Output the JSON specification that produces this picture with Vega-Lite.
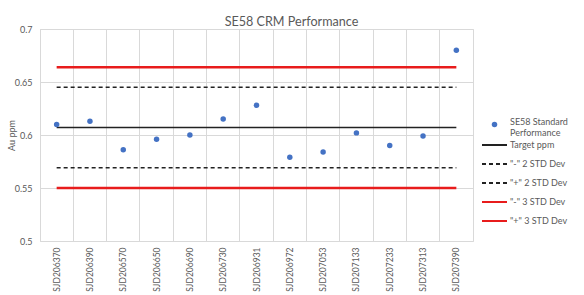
{
  "$schema": "https://vega.github.io/schema/vega-lite/v6.json",
  "width": 433,
  "height": 212,
  "autosize": {"type": "none"},
  "padding": {"left": 40, "top": 29, "right": 111, "bottom": 54},
  "background": "white",
  "title": {
    "text": "SE58 CRM Performance",
    "font": "Lato",
    "fontSize": 12.6,
    "fontWeight": "normal",
    "color": "#595959",
    "anchor": "middle",
    "dx": 35,
    "offset": -4
  },
  "datasets": {
    "samples": [
      {"sample": "SJD206370", "series": "SE58 Standard Performance", "value": 0.610},
      {"sample": "SJD206390", "series": "SE58 Standard Performance", "value": 0.613},
      {"sample": "SJD206570", "series": "SE58 Standard Performance", "value": 0.586},
      {"sample": "SJD206650", "series": "SE58 Standard Performance", "value": 0.596},
      {"sample": "SJD206690", "series": "SE58 Standard Performance", "value": 0.600},
      {"sample": "SJD206730", "series": "SE58 Standard Performance", "value": 0.615},
      {"sample": "SJD206931", "series": "SE58 Standard Performance", "value": 0.628},
      {"sample": "SJD206972", "series": "SE58 Standard Performance", "value": 0.579},
      {"sample": "SJD207053", "series": "SE58 Standard Performance", "value": 0.584},
      {"sample": "SJD207133", "series": "SE58 Standard Performance", "value": 0.602},
      {"sample": "SJD207233", "series": "SE58 Standard Performance", "value": 0.590},
      {"sample": "SJD207313", "series": "SE58 Standard Performance", "value": 0.599},
      {"sample": "SJD207390", "series": "SE58 Standard Performance", "value": 0.680}
    ],
    "limits": [
      {"sample": "SJD206370", "series": "Target ppm", "kind": "target", "value": 0.607},
      {"sample": "SJD207390", "series": "Target ppm", "kind": "target", "value": 0.607},
      {"sample": "SJD206370", "series": "\"-\" 2 STD Dev", "kind": "2sd", "value": 0.569},
      {"sample": "SJD207390", "series": "\"-\" 2 STD Dev", "kind": "2sd", "value": 0.569},
      {"sample": "SJD206370", "series": "\"+\" 2 STD Dev", "kind": "2sd", "value": 0.645},
      {"sample": "SJD207390", "series": "\"+\" 2 STD Dev", "kind": "2sd", "value": 0.645},
      {"sample": "SJD206370", "series": "\"-\" 3 STD Dev", "kind": "3sd", "value": 0.550},
      {"sample": "SJD207390", "series": "\"-\" 3 STD Dev", "kind": "3sd", "value": 0.550},
      {"sample": "SJD206370", "series": "\"+\" 3 STD Dev", "kind": "3sd", "value": 0.664},
      {"sample": "SJD207390", "series": "\"+\" 3 STD Dev", "kind": "3sd", "value": 0.664}
    ]
  },
  "resolve": {"axis": {"x": "independent"}},
  "layer": [
    {
      "data": {"name": "limits"},
      "transform": [{"filter": "datum.kind === 'target'"}],
      "mark": {"type": "line", "strokeWidth": 1.5},
      "encoding": {
        "x": {
          "field": "sample",
          "type": "nominal",
          "scale": {
            "type": "band",
            "paddingInner": 0,
            "paddingOuter": 0,
            "domain": ["SJD206370", "SJD206390", "SJD206570", "SJD206650", "SJD206690", "SJD206730", "SJD206931", "SJD206972", "SJD207053", "SJD207133", "SJD207233", "SJD207313", "SJD207390"]
          },
          "axis": {
            "orient": "bottom",
            "bandPosition": 0,
            "grid": true,
            "gridColor": "#D9D9D9",
            "gridWidth": 1,
            "labels": false,
            "ticks": false,
            "domain": false,
            "title": null
          }
        },
        "y": {
          "field": "value",
          "type": "quantitative",
          "scale": {"domain": [0.5, 0.7], "nice": false, "zero": false},
          "axis": {
            "title": "Au ppm",
            "values": [0.5, 0.55, 0.6, 0.65, 0.7],
            "format": ".2~f",
            "grid": true,
            "gridColor": "#D9D9D9",
            "ticks": false,
            "domain": false,
            "labelPadding": 8,
            "labelFont": "Lato",
            "labelFontSize": 9,
            "labelColor": "#595959",
            "titleFont": "Lato",
            "titleFontSize": 9,
            "titleFontWeight": "normal",
            "titleColor": "#595959",
            "titlePadding": -2
          }
        },
        "color": {
          "field": "series",
          "type": "nominal",
          "scale": {
            "domain": ["Target ppm", "\"-\" 2 STD Dev", "\"+\" 2 STD Dev", "\"-\" 3 STD Dev", "\"+\" 3 STD Dev"],
            "range": ["#222222", "#222222", "#222222", "#E81C1C", "#E81C1C"]
          },
          "legend": {
            "title": null,
            "orient": "none",
            "legendX": 441,
            "legendY": 102.5,
            "padding": 0,
            "symbolType": "stroke",
            "symbolSize": 625,
            "symbolStrokeWidth": 1.8,
            "rowPadding": -6.7,
            "labelOffset": 2,
            "labelFont": "Lato",
            "labelFontSize": 9,
            "labelColor": "#595959"
          }
        },
        "strokeDash": {
          "field": "series",
          "type": "nominal",
          "scale": {
            "domain": ["Target ppm", "\"-\" 2 STD Dev", "\"+\" 2 STD Dev", "\"-\" 3 STD Dev", "\"+\" 3 STD Dev"],
            "range": [[1, 0], [4, 3], [4, 3], [1, 0], [1, 0]]
          },
          "legend": {
            "title": null,
            "orient": "none",
            "legendX": 441,
            "legendY": 102.5,
            "padding": 0,
            "symbolType": "stroke",
            "symbolSize": 625,
            "symbolStrokeWidth": 1.8,
            "rowPadding": -6.7,
            "labelOffset": 2,
            "labelFont": "Lato",
            "labelFontSize": 9,
            "labelColor": "#595959"
          }
        }
      }
    },
    {
      "data": {"name": "limits"},
      "transform": [{"filter": "datum.kind === '2sd'"}],
      "mark": {"type": "line", "strokeWidth": 1.5},
      "encoding": {
        "x": {"field": "sample", "type": "nominal", "axis": null},
        "y": {"field": "value", "type": "quantitative"},
        "color": {"field": "series", "type": "nominal"},
        "strokeDash": {"field": "series", "type": "nominal"}
      }
    },
    {
      "data": {"name": "limits"},
      "transform": [{"filter": "datum.kind === '3sd'"}],
      "mark": {"type": "line", "strokeWidth": 2.5},
      "encoding": {
        "x": {"field": "sample", "type": "nominal", "axis": null},
        "y": {"field": "value", "type": "quantitative"},
        "color": {"field": "series", "type": "nominal"},
        "strokeDash": {"field": "series", "type": "nominal"}
      }
    },
    {
      "data": {"name": "samples"},
      "mark": {"type": "point", "filled": true, "opacity": 1, "size": 30, "color": "#4472C4"},
      "encoding": {
        "x": {
          "field": "sample",
          "type": "nominal",
          "axis": {
            "orient": "bottom",
            "title": null,
            "grid": false,
            "ticks": false,
            "domain": false,
            "labelAngle": 270,
            "labelPadding": 6,
            "labelFont": "Lato",
            "labelFontSize": 8.5,
            "labelColor": "#595959"
          }
        },
        "y": {"field": "value", "type": "quantitative"},
        "shape": {
          "field": "series",
          "type": "nominal",
          "scale": {"domain": ["SE58 Standard Performance"], "range": ["circle"]},
          "legend": {
            "title": null,
            "orient": "none",
            "legendX": 450,
            "legendY": 91,
            "padding": 0,
            "symbolSize": 30,
            "symbolOpacity": 1,
            "symbolFillColor": "#4472C4",
            "labelOffset": 11,
            "labelFont": "Lato",
            "labelFontSize": 9,
            "labelColor": "#595959",
            "labelLimit": 200,
            "labelBaseline": "alphabetic",
            "labelExpr": "['SE58 Standard', 'Performance']"
          }
        }
      }
    }
  ],
  "config": {
    "view": {"stroke": "#D9D9D9", "strokeWidth": 1}
  }
}
